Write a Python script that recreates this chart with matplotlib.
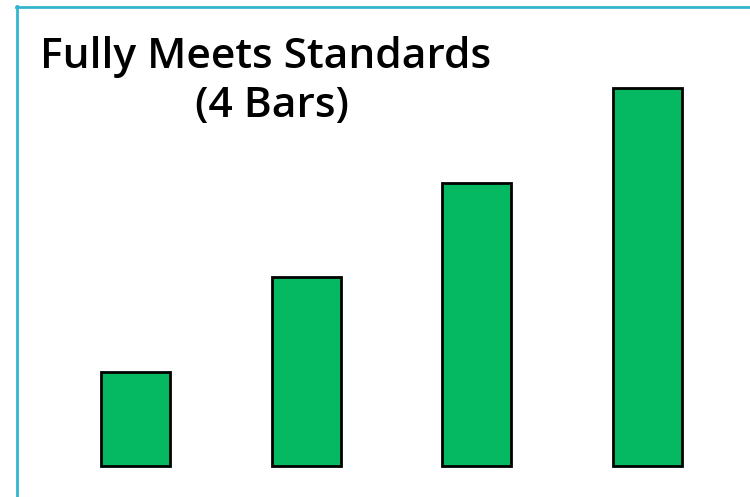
import matplotlib.pyplot as plt
from matplotlib.lines import Line2D

# bar chart data
categories = ['A', 'B', 'C', 'D']
values = [1, 2, 3, 4]
title_lines = ['Fully Meets Standards', '(4 Bars)']

W, H = 750, 497
fig = plt.figure(figsize=(W / 100, H / 100), dpi=100)
fig.patch.set_facecolor('white')

# axes spans the whole figure; limits chosen so bars land where wanted
ax = fig.add_axes([0, 0, 1, 1])
step = 170.5
unit = 94.4
ax.set_xlim(-135.5 / step, (W - 135.5) / step)
ax.set_ylim(-(H - 466) / unit, 466 / unit)
ax.bar(range(len(values)), values, width=69 / step,
       color='#05B862', edgecolor='black', linewidth=2)
ax.axis('off')

# blue frame on top and left
frame_col = '#34B4CF'
fig.add_artist(Line2D([16.5 / W, 16.5 / W], [0, 1 - 6 / H],
                      color=frame_col, lw=2, transform=fig.transFigure))
fig.add_artist(Line2D([16 / W, 1], [1 - 6.5 / H, 1 - 6.5 / H],
                      color=frame_col, lw=2, transform=fig.transFigure))

# two-line title
font = 'Open Sans'
fig.text(266 / W, 1 - 68 / H, title_lines[0], ha='center', va='baseline',
         fontsize=30.6, family=font, weight='semibold', color='black')
fig.text(272 / W, 1 - 117 / H, title_lines[1], ha='center', va='baseline',
         fontsize=30.6, family=font, weight='semibold', color='black')

fig.savefig('out.png', dpi=100)
